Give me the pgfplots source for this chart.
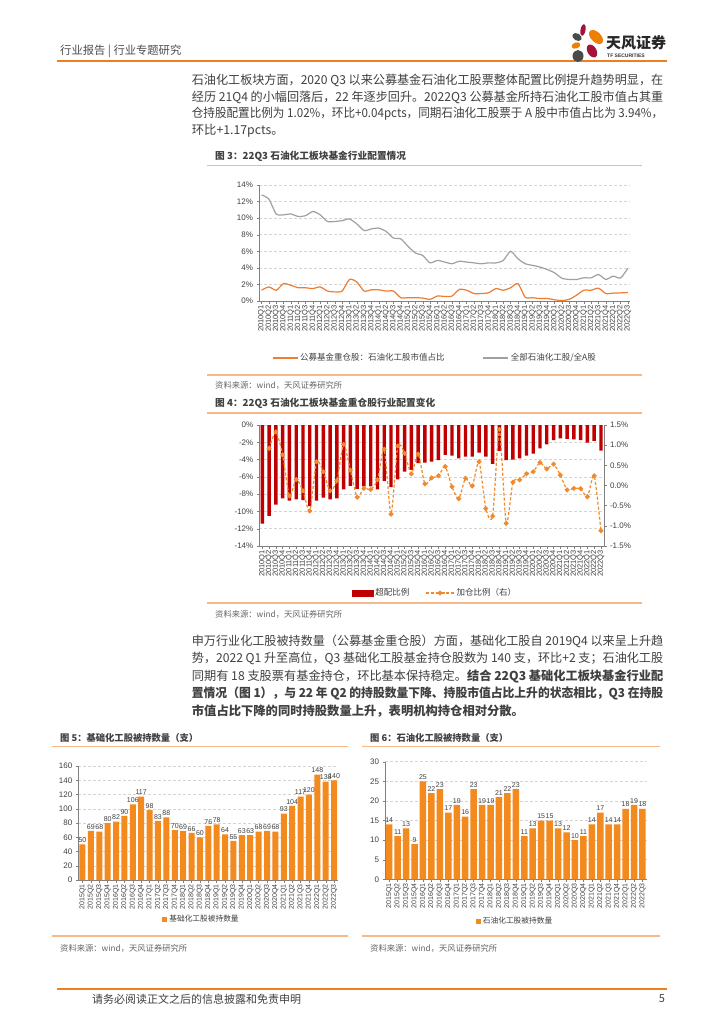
\documentclass[border=0pt]{standalone}
\usepackage{pgfplots}
\pgfplotsset{compat=1.18}
\usepackage{pgfplotstable}
\usepackage{fontspec}
\setmainfont{Noto Sans CJK SC}
\newfontfamily\arial{Liberation Sans}
\definecolor{txt}{HTML}{404040}
\definecolor{rulec}{HTML}{F6B889}
\definecolor{hdr}{HTML}{EE7F1E}
\definecolor{c3o}{HTML}{ED7D31}
\definecolor{c3g}{HTML}{A0A0A0}
\definecolor{c4r}{HTML}{C00000}
\definecolor{c4o}{HTML}{F08A2C}
\definecolor{barc}{HTML}{F28A1E}
\definecolor{gridc}{HTML}{D4D4D4}
\definecolor{axc}{HTML}{808080}
\definecolor{logor}{HTML}{A6123A}
\definecolor{logog}{HTML}{4A4A4A}
\definecolor{logoo}{HTML}{EE7F00}
\newcommand{\fs}[1]{\fontsize{#1}{#1}\selectfont}
\newcommand{\jline}[1]{\resizebox{471.3pt}{\height}{#1}}

\pgfplotstableread{
x f a
0 1.3 12.8
1 1.7 12.3
2 1.3 10.5
3 2.1 10.4
4 1.9 10.5
5 1.6 10.2
6 1.6 10.3
7 1.5 10.8
8 1.7 10.4
9 1.2 9.6
10 1.1 9.6
11 1.2 9.7
12 2.6 9.9
13 2.3 9.3
14 1.2 8.5
15 1.35 8.7
16 1.35 8.8
17 1.2 8.4
18 1.2 7.6
19 0.4 7.5
20 0.4 6.6
21 0.4 5.8
22 0.35 5.5
23 0.2 4.6
24 0.6 4.9
25 0.55 4.7
26 0.6 4.5
27 1.4 4.8
28 1.3 4.7
29 0.9 4.6
30 0.9 4.5
31 1.0 4.6
32 1.5 4.6
33 1.3 4.9
34 1.6 6.0
35 2.1 5.1
36 0.45 4.5
37 0.4 4.3
38 0.3 4.1
39 0.3 3.8
40 0.15 3.4
41 0.05 2.75
42 0.2 2.6
43 0.7 2.6
44 1.3 2.8
45 1.3 2.8
46 1.55 3.2
47 0.9 2.6
48 0.95 3.0
49 0.98 2.77
50 1.02 3.94
}\cthree

\pgfplotstableread{
x o a
0 -11.4 nan
1 -10.5 0.92
2 -9.2 1.33
3 -8.5 0.76
4 -8.75 -0.26
5 -8.6 0.15
6 -8.7 -0.13
7 -9.4 -0.63
8 -8.75 0.59
9 -8.4 0.34
10 -8.6 -0.13
11 -8.5 0.12
12 -7.45 1.02
13 -7.05 0.38
14 -7.4 -0.29
15 -7.1 -0.07
16 -7.1 -0.10
17 -7.45 0.14
18 -6.5 0.90
19 -7.2 -0.71
20 -6.3 0.98
21 -5.4 0.80
22 -5.2 0.29
23 -4.4 0.78
24 -4.35 0.04
25 -4.25 0.19
26 -4.05 0.24
27 -3.45 0.47
28 -3.55 -0.03
29 -3.85 -0.33
30 -3.65 0.18
31 -3.65 -0.01
32 -3.2 0.59
33 -3.65 -0.57
34 -4.5 -0.76
35 -3.0 1.39
36 -4.05 -0.94
37 -4.0 0.08
38 -3.85 0.14
39 -3.55 0.29
40 -3.3 0.34
41 -2.7 0.57
42 -2.25 0.41
43 -1.75 0.53
44 -1.55 0.26
45 -1.6 -0.11
46 -1.65 -0.07
47 -1.75 -0.08
48 -2.05 -0.28
49 -1.85 0.24
50 -2.95 -1.12
}\cfour

\pgfplotstableread{
x v
0 50
1 69
2 68
3 80
4 82
5 90
6 106
7 117
8 98
9 83
10 88
11 70
12 69
13 66
14 60
15 76
16 78
17 64
18 55
19 63
20 63
21 68
22 69
23 68
24 93
25 104
26 117
27 120
28 148
29 138
30 140
}\cfive

\pgfplotstableread{
x v
0 14
1 11
2 13
3 9
4 25
5 22
6 23
7 17
8 19
9 16
10 23
11 19
12 19
13 21
14 22
15 23
16 11
17 13
18 15
19 15
20 13
21 12
22 10
23 11
24 14
25 17
26 14
27 14
28 18
29 19
30 18
}\csix

\pgfplotsset{
  base/.style={scale only axis, axis line style={axc,-}, tick style={axc, thin}, major tick length=2.5pt, tick align=outside,
    /pgf/number format/assume math mode=true,
    tick label style={font=\arial\fs{8}, text=txt},
    ymajorgrids, grid style={gridc, dash pattern=on 3pt off 2pt, line width=0.5pt},
    legend style={draw=none, fill=none, font=\fs{8.5}, text=txt},
    axis x line*=bottom, axis y line*=left,
  },
  qlabA/.style={xtick={0,...,50}, xticklabels={2010Q1,2010Q2,2010Q3,2010Q4,2011Q1,2011Q2,2011Q3,2011Q4,2012Q1,2012Q2,2012Q3,2012Q4,2013Q1,2013Q2,2013Q3,2013Q4,2014Q1,2014Q2,2014Q3,2014Q4,2015Q1,2015Q2,2015Q3,2015Q4,2016Q1,2016Q2,2016Q3,2016Q4,2017Q1,2017Q2,2017Q3,2017Q4,2018Q1,2018Q2,2018Q3,2018Q4,2019Q1,2019Q2,2019Q3,2019Q4,2020Q1,2020Q2,2020Q3,2020Q4,2021Q1,2021Q2,2021Q3,2021Q4,2022Q1,2022Q2,2022Q3},
    x tick label style={rotate=90, anchor=east, font=\arial\fs{7.5}, inner sep=1.5pt}},
  qlabB/.style={xtick={0,...,30}, xticklabels={2015Q1,2015Q2,2015Q3,2015Q4,2016Q1,2016Q2,2016Q3,2016Q4,2017Q1,2017Q2,2017Q3,2017Q4,2018Q1,2018Q2,2018Q3,2018Q4,2019Q1,2019Q2,2019Q3,2019Q4,2020Q1,2020Q2,2020Q3,2020Q4,2021Q1,2021Q2,2021Q3,2021Q4,2022Q1,2022Q2,2022Q3},
    x tick label style={rotate=90, anchor=east, font=\arial\fs{7}, inner sep=1.5pt}},
  lineleg/.style={legend image code/.code={\draw[##1] (0pt,0pt) -- (25pt,0pt);}},
  dotleg/.style={legend image code/.code={\draw[mark repeat=2, mark phase=2, ##1] plot coordinates {(0pt,0pt) (14pt,0pt) (28pt,0pt)};}},
  redleg/.style={legend image code/.code={\fill[c4r] (0pt,-3pt) rectangle (21pt,3pt);}},
  sqleg/.style={legend image code/.code={\fill[barc] (0pt,-2.5pt) rectangle (5pt,2.5pt);}},
}

\begin{document}
\begin{tikzpicture}
\begin{scope}[x=1pt,y=1pt]
\path[use as bounding box, fill=white] (0,0) rectangle (724,-1024);
% header
\node[anchor=west, font=\fs{11.3}, text=black!70] at (56.7,-51.7) {行业报告 | 行业专题研究};
\draw[hdr, line width=2pt] (56.7,-60.7) -- (667,-60.7);
% logo
\fill[logor, rotate around={-10:(583,-30)}] (583,-30) ellipse (2.5 and 6);
\fill[logoo, rotate around={45:(596,-37)}] (596,-37) ellipse (5 and 8.5);
\fill[logog, rotate around={-30:(577,-37)}] (577,-37) ellipse (5 and 3.5);
\fill[logoo, rotate around={20:(576,-45.5)}] (576,-45.5) ellipse (4.5 and 3);
\fill[logor, rotate around={30:(592,-51)}] (592,-51) ellipse (4.5 and 7);
\fill[logog] (578,-56) ellipse (5.5 and 6);
\node[anchor=west, font=\fs{15}\bfseries, text=black!85, inner sep=0pt] at (606,-42.5) {天风证券};
\node[anchor=west, font=\arial\bfseries\fs{5}, text=black!80, inner sep=0pt] at (607,-56) {TF SECURITIES};
% paragraphs
\begin{scope}[every node/.style={anchor=west, font=\fs{12.3}, text=txt, inner sep=0pt}]
\node at (191.7,-80) {\jline{石油化工板块方面，2020 Q3 以来公募基金石油化工股票整体配置比例提升趋势明显，在}};
\node at (191.7,-97) {\jline{经历 21Q4 的小幅回落后，22 年逐步回升。2022Q3 公募基金所持石油化工股市值占其重}};
\node at (191.7,-114) {\jline{仓持股配置比例为 1.02\%，环比+0.04pcts，同期石油化工股票于 A 股中市值占比为 3.94\%，}};
\node at (191.7,-131) {环比+1.17pcts。};
\node at (191.7,-641) {\jline{申万行业化工股被持数量（公募基金重仓股）方面，基础化工股自 2019Q4 以来呈上升趋}};
\node at (191.7,-658.5) {\jline{势，2022 Q1 升至高位，Q3 基础化工股基金持仓股数为 140 支，环比+2 支；石油化工股}};
\node at (191.7,-676) {\jline{同期有 18 支股票有基金持仓，环比基本保持稳定。{\bfseries 结合 22Q3 基础化工板块基金行业配}}};
\node at (191.7,-693.5) {\jline{\bfseries 置情况（图 1），与 22 年 Q2 的持股数量下降、持股市值占比上升的状态相比，Q3 在持股}};
\node at (191.7,-711) {\bfseries 市值占比下降的同时持股数量上升，表明机构持仓相对分散。};
\end{scope}
% captions and rules
\begin{scope}[every node/.style={anchor=west, text=txt, inner sep=0pt}]
\node[font=\fs{9.7}\bfseries] at (215,-156) {图 3：22Q3 石油化工板块基金行业配置情况};
\node[font=\fs{8.3}, text=black!60] at (215,-385) {资料来源：wind，天风证券研究所};
\node[font=\fs{9.7}\bfseries] at (215,-403) {图 4：22Q3 石油化工板块基金重仓股行业配置变化};
\node[font=\fs{8.3}, text=black!60] at (215,-614) {资料来源：wind，天风证券研究所};
\node[font=\fs{9.3}\bfseries] at (60,-737.7) {图 5：基础化工股被持数量（支）};
\node[font=\fs{9.3}\bfseries] at (370,-737.7) {图 6：石油化工股被持数量（支）};
\node[font=\fs{8.3}, text=black!60] at (60,-948) {资料来源：wind，天风证券研究所};
\node[font=\fs{8.3}, text=black!60] at (370,-948) {资料来源：wind，天风证券研究所};
\end{scope}
\draw[rulec, line width=1.2pt] (207,-165.7) -- (642,-165.7);
\draw[rulec, line width=1.2pt] (207,-375) -- (642,-375);
\draw[rulec, line width=1.2pt] (207,-413) -- (642,-413);
\draw[rulec, line width=1.2pt] (207,-603) -- (642,-603);
\draw[rulec, line width=1.2pt] (52,-746.7) -- (348,-746.7);
\draw[rulec, line width=1.2pt] (52,-936) -- (348,-936);
\draw[rulec, line width=1.2pt] (362,-746.7) -- (660,-746.7);
\draw[rulec, line width=1.2pt] (362,-936) -- (660,-936);
% footer
\draw[hdr, line width=1.6pt] (57,-989) -- (667,-989);
\node[anchor=west, font=\fs{11}, text=txt, inner sep=0pt] at (92,-999) {请务必阅读正文之后的信息披露和免责申明};
\node[font=\fs{11}, text=txt, inner sep=0pt] at (662,-999) {5};
\end{scope}

% ---------- chart 3
\begin{axis}[base, qlabA, at={(259pt,-301pt)}, anchor=south west, width=371pt, height=116pt,
  xmin=-0.35, xmax=50.3, ymin=0, ymax=14, ytick={0,2,...,14},
  yticklabel={\pgfmathprintnumber{\tick}\%},
  legend columns=2,
  legend style={at={(0.474,-0.491)}, anchor=center, /tikz/every even column/.append style={column sep=36pt}}]
\addplot[c3o, line width=1.2pt, smooth, tension=0.4, lineleg] table[x=x,y=f] {\cthree};
\addlegendentry{公募基金重仓股：石油化工股市值占比}
\addplot[c3g, line width=1.2pt, smooth, tension=0.4, lineleg] table[x=x,y=a] {\cthree};
\addlegendentry{全部石油化工股/全A股}
\end{axis}

% ---------- chart 4 left
\begin{axis}[base, qlabA, at={(259.3pt,-546pt)}, anchor=south west, width=344.7pt, height=121pt,
  xmin=-0.45, xmax=50.45, ymin=-14, ymax=0, ytick={-14,-12,...,0},
  yticklabel={\pgfmathprintnumber{\tick}\%}]
\addplot[ybar, bar width=3.4pt, fill=c4r, draw=none] table[x=x,y=o] {\cfour};
\end{axis}
% ---------- chart 4 right
\begin{axis}[base, at={(259.3pt,-546pt)}, anchor=south west, width=344.7pt, height=121pt,
  xmin=-0.45, xmax=50.45, ymin=-1.5, ymax=1.5, ytick={-1.5,-1,...,1.5},
  axis y line*=right, axis x line=none, ymajorgrids=false,
  yticklabel={\pgfmathprintnumber[fixed,fixed zerofill,precision=1]{\tick}\%},
  legend columns=2,
  legend style={at={(0.51,-0.388)}, anchor=center, /tikz/every even column/.append style={column sep=14pt}}]
\addlegendimage{redleg}
\addlegendentry{超配比例}
\addplot[c4o, line width=1.2pt, dash pattern=on 3pt off 2pt, smooth, tension=0.4, mark=*, mark size=1.8pt,
  mark options={solid, fill=c4o, draw=c4o}, dotleg] table[x=x,y=a] {\cfour};
\addlegendentry{加仓比例（右）}
\end{axis}

% ---------- chart 5
\begin{axis}[base, qlabB, at={(78.3pt,-880pt)}, anchor=south west, width=260pt, height=114pt,
  xmin=-0.5, xmax=30.5, ymin=0, ymax=160, ytick={0,20,...,160},
  nodes near coords, every node near coord/.append style={font=\arial\fs{7}, text=txt, inner sep=1.5pt},
  legend style={at={(0.474,-0.345)}, anchor=center, font=\fs{7.7}}]
\addplot[ybar, bar width=6pt, fill=barc, draw=none, sqleg] table[x=x,y=v] {\cfive};
\addlegendentry{基础化工股被持数量}
\end{axis}

% ---------- chart 6
\begin{axis}[base, qlabB, at={(385pt,-879.3pt)}, anchor=south west, width=261.7pt, height=117.6pt,
  xmin=-0.5, xmax=30.5, ymin=0, ymax=30, ytick={0,5,...,30},
  nodes near coords, every node near coord/.append style={font=\arial\fs{7}, text=txt, inner sep=1.5pt},
  legend style={at={(0.497,-0.355)}, anchor=center, font=\fs{7.7}}]
\addplot[ybar, bar width=6.5pt, fill=barc, draw=none, sqleg] table[x=x,y=v] {\csix};
\addlegendentry{石油化工股被持数量}
\end{axis}
\end{tikzpicture}
\end{document}
